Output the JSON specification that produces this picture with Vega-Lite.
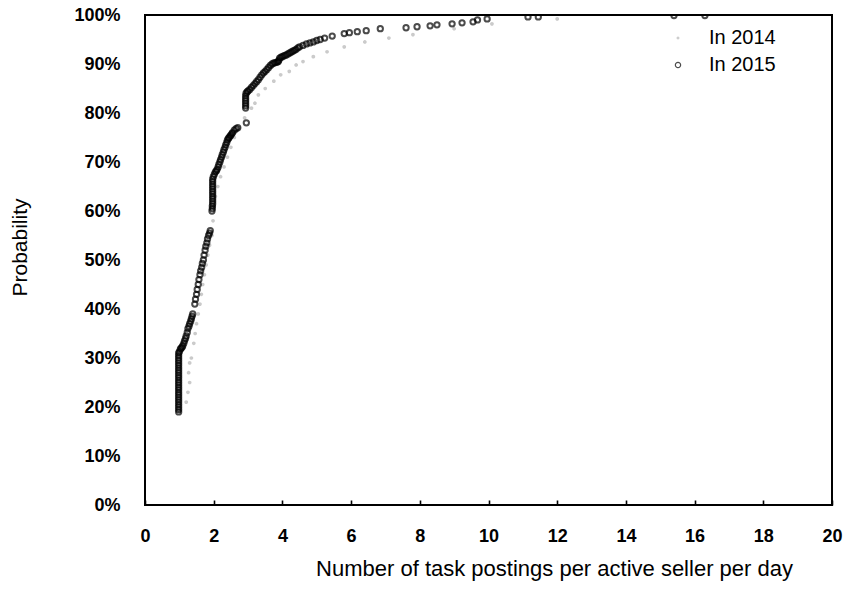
{
  "$schema": "https://vega.github.io/schema/vega-lite/v6.json",
  "autosize": {"type": "none"},
  "width": 687,
  "height": 490,
  "padding": {"left": 145, "top": 15, "right": 16, "bottom": 95},
  "background": "white",
  "config": {
    "font": "Liberation Sans",
    "view": {"stroke": "black", "strokeWidth": 2}
  },
  "data": {
    "values": [
      {"year": 2014, "x": 1.0, "p": 0.19}, {"year": 2014, "x": 1.2, "p": 0.21}, {"year": 2014, "x": 1.25, "p": 0.23},
      {"year": 2014, "x": 1.3, "p": 0.25}, {"year": 2014, "x": 1.27, "p": 0.27}, {"year": 2014, "x": 1.3, "p": 0.29},
      {"year": 2014, "x": 1.35, "p": 0.3}, {"year": 2014, "x": 1.42, "p": 0.33}, {"year": 2014, "x": 1.46, "p": 0.35},
      {"year": 2014, "x": 1.5, "p": 0.37}, {"year": 2014, "x": 1.55, "p": 0.39}, {"year": 2014, "x": 1.6, "p": 0.41},
      {"year": 2014, "x": 1.64, "p": 0.43}, {"year": 2014, "x": 1.68, "p": 0.45}, {"year": 2014, "x": 1.73, "p": 0.47},
      {"year": 2014, "x": 1.78, "p": 0.49}, {"year": 2014, "x": 1.83, "p": 0.51}, {"year": 2014, "x": 1.88, "p": 0.53},
      {"year": 2014, "x": 1.95, "p": 0.55}, {"year": 2014, "x": 1.98, "p": 0.58}, {"year": 2014, "x": 2.02, "p": 0.61},
      {"year": 2014, "x": 2.05, "p": 0.63}, {"year": 2014, "x": 2.12, "p": 0.65}, {"year": 2014, "x": 2.2, "p": 0.67},
      {"year": 2014, "x": 2.3, "p": 0.69}, {"year": 2014, "x": 2.4, "p": 0.71}, {"year": 2014, "x": 2.5, "p": 0.73},
      {"year": 2014, "x": 2.6, "p": 0.75}, {"year": 2014, "x": 2.75, "p": 0.77}, {"year": 2014, "x": 2.9, "p": 0.79},
      {"year": 2014, "x": 3.1, "p": 0.81}, {"year": 2014, "x": 3.2, "p": 0.82}, {"year": 2014, "x": 3.3, "p": 0.837},
      {"year": 2014, "x": 3.5, "p": 0.85}, {"year": 2014, "x": 3.75, "p": 0.865}, {"year": 2014, "x": 3.95, "p": 0.878},
      {"year": 2014, "x": 4.2, "p": 0.885}, {"year": 2014, "x": 4.4, "p": 0.898}, {"year": 2014, "x": 4.6, "p": 0.905},
      {"year": 2014, "x": 4.9, "p": 0.915}, {"year": 2014, "x": 5.3, "p": 0.925}, {"year": 2014, "x": 5.8, "p": 0.935},
      {"year": 2014, "x": 6.4, "p": 0.945}, {"year": 2014, "x": 7.1, "p": 0.953}, {"year": 2014, "x": 7.8, "p": 0.96},
      {"year": 2014, "x": 9.0, "p": 0.972}, {"year": 2014, "x": 10.1, "p": 0.982}, {"year": 2014, "x": 12.0, "p": 0.992},

      {"year": 2015, "x": 0.98, "p": 0.19}, {"year": 2015, "x": 0.98, "p": 0.195}, {"year": 2015, "x": 0.98, "p": 0.2},
      {"year": 2015, "x": 0.98, "p": 0.205}, {"year": 2015, "x": 0.98, "p": 0.21}, {"year": 2015, "x": 0.98, "p": 0.215},
      {"year": 2015, "x": 0.98, "p": 0.22}, {"year": 2015, "x": 0.98, "p": 0.225}, {"year": 2015, "x": 0.98, "p": 0.23},
      {"year": 2015, "x": 0.98, "p": 0.235}, {"year": 2015, "x": 0.98, "p": 0.24}, {"year": 2015, "x": 0.98, "p": 0.245},
      {"year": 2015, "x": 0.98, "p": 0.25}, {"year": 2015, "x": 0.98, "p": 0.255}, {"year": 2015, "x": 0.98, "p": 0.26},
      {"year": 2015, "x": 0.98, "p": 0.265}, {"year": 2015, "x": 0.98, "p": 0.27}, {"year": 2015, "x": 0.98, "p": 0.275},
      {"year": 2015, "x": 0.98, "p": 0.28}, {"year": 2015, "x": 0.98, "p": 0.285}, {"year": 2015, "x": 0.98, "p": 0.29},
      {"year": 2015, "x": 0.98, "p": 0.295}, {"year": 2015, "x": 0.98, "p": 0.3}, {"year": 2015, "x": 0.98, "p": 0.305},
      {"year": 2015, "x": 0.98, "p": 0.31}, {"year": 2015, "x": 1.0, "p": 0.313}, {"year": 2015, "x": 1.03, "p": 0.318},
      {"year": 2015, "x": 1.05, "p": 0.32}, {"year": 2015, "x": 1.08, "p": 0.322}, {"year": 2015, "x": 1.1, "p": 0.325},
      {"year": 2015, "x": 1.13, "p": 0.33}, {"year": 2015, "x": 1.15, "p": 0.335}, {"year": 2015, "x": 1.18, "p": 0.34},
      {"year": 2015, "x": 1.2, "p": 0.345}, {"year": 2015, "x": 1.23, "p": 0.352}, {"year": 2015, "x": 1.25, "p": 0.36},
      {"year": 2015, "x": 1.28, "p": 0.365}, {"year": 2015, "x": 1.3, "p": 0.37}, {"year": 2015, "x": 1.33, "p": 0.375},
      {"year": 2015, "x": 1.35, "p": 0.38}, {"year": 2015, "x": 1.37, "p": 0.385}, {"year": 2015, "x": 1.39, "p": 0.39},
      {"year": 2015, "x": 1.45, "p": 0.41}, {"year": 2015, "x": 1.47, "p": 0.42}, {"year": 2015, "x": 1.5, "p": 0.43},
      {"year": 2015, "x": 1.52, "p": 0.44}, {"year": 2015, "x": 1.55, "p": 0.45}, {"year": 2015, "x": 1.57, "p": 0.46},
      {"year": 2015, "x": 1.6, "p": 0.47}, {"year": 2015, "x": 1.62, "p": 0.478}, {"year": 2015, "x": 1.65, "p": 0.485},
      {"year": 2015, "x": 1.67, "p": 0.493}, {"year": 2015, "x": 1.7, "p": 0.5}, {"year": 2015, "x": 1.72, "p": 0.51},
      {"year": 2015, "x": 1.75, "p": 0.52}, {"year": 2015, "x": 1.77, "p": 0.528}, {"year": 2015, "x": 1.8, "p": 0.535},
      {"year": 2015, "x": 1.82, "p": 0.543}, {"year": 2015, "x": 1.85, "p": 0.55}, {"year": 2015, "x": 1.88, "p": 0.555},
      {"year": 2015, "x": 1.9, "p": 0.56}, {"year": 2015, "x": 1.95, "p": 0.6}, {"year": 2015, "x": 1.96, "p": 0.605},
      {"year": 2015, "x": 1.96, "p": 0.61}, {"year": 2015, "x": 1.97, "p": 0.615}, {"year": 2015, "x": 1.97, "p": 0.62},
      {"year": 2015, "x": 1.97, "p": 0.625}, {"year": 2015, "x": 1.97, "p": 0.63}, {"year": 2015, "x": 1.97, "p": 0.635},
      {"year": 2015, "x": 1.97, "p": 0.64}, {"year": 2015, "x": 1.97, "p": 0.645}, {"year": 2015, "x": 1.97, "p": 0.65},
      {"year": 2015, "x": 1.97, "p": 0.655}, {"year": 2015, "x": 1.97, "p": 0.66}, {"year": 2015, "x": 1.97, "p": 0.665},
      {"year": 2015, "x": 1.99, "p": 0.67}, {"year": 2015, "x": 2.02, "p": 0.675}, {"year": 2015, "x": 2.05, "p": 0.68},
      {"year": 2015, "x": 2.08, "p": 0.682}, {"year": 2015, "x": 2.1, "p": 0.685}, {"year": 2015, "x": 2.13, "p": 0.69},
      {"year": 2015, "x": 2.15, "p": 0.695}, {"year": 2015, "x": 2.18, "p": 0.7}, {"year": 2015, "x": 2.2, "p": 0.705},
      {"year": 2015, "x": 2.23, "p": 0.71}, {"year": 2015, "x": 2.25, "p": 0.715}, {"year": 2015, "x": 2.28, "p": 0.72},
      {"year": 2015, "x": 2.3, "p": 0.725}, {"year": 2015, "x": 2.33, "p": 0.73}, {"year": 2015, "x": 2.35, "p": 0.735},
      {"year": 2015, "x": 2.38, "p": 0.74}, {"year": 2015, "x": 2.4, "p": 0.745}, {"year": 2015, "x": 2.43, "p": 0.748},
      {"year": 2015, "x": 2.45, "p": 0.75}, {"year": 2015, "x": 2.48, "p": 0.753}, {"year": 2015, "x": 2.5, "p": 0.755},
      {"year": 2015, "x": 2.53, "p": 0.758}, {"year": 2015, "x": 2.55, "p": 0.76}, {"year": 2015, "x": 2.6, "p": 0.765},
      {"year": 2015, "x": 2.65, "p": 0.768}, {"year": 2015, "x": 2.7, "p": 0.77}, {"year": 2015, "x": 2.95, "p": 0.78},
      {"year": 2015, "x": 2.93, "p": 0.81}, {"year": 2015, "x": 2.93, "p": 0.815}, {"year": 2015, "x": 2.93, "p": 0.82},
      {"year": 2015, "x": 2.93, "p": 0.825}, {"year": 2015, "x": 2.93, "p": 0.83}, {"year": 2015, "x": 2.93, "p": 0.835},
      {"year": 2015, "x": 2.94, "p": 0.84}, {"year": 2015, "x": 2.97, "p": 0.843}, {"year": 2015, "x": 3.0, "p": 0.845},
      {"year": 2015, "x": 3.05, "p": 0.848}, {"year": 2015, "x": 3.1, "p": 0.852}, {"year": 2015, "x": 3.15, "p": 0.856},
      {"year": 2015, "x": 3.2, "p": 0.86}, {"year": 2015, "x": 3.25, "p": 0.864}, {"year": 2015, "x": 3.3, "p": 0.868},
      {"year": 2015, "x": 3.35, "p": 0.873}, {"year": 2015, "x": 3.4, "p": 0.878}, {"year": 2015, "x": 3.45, "p": 0.882},
      {"year": 2015, "x": 3.5, "p": 0.885}, {"year": 2015, "x": 3.55, "p": 0.889}, {"year": 2015, "x": 3.6, "p": 0.893},
      {"year": 2015, "x": 3.65, "p": 0.897}, {"year": 2015, "x": 3.7, "p": 0.9}, {"year": 2015, "x": 3.75, "p": 0.902},
      {"year": 2015, "x": 3.8, "p": 0.903}, {"year": 2015, "x": 3.85, "p": 0.904}, {"year": 2015, "x": 3.88, "p": 0.905},
      {"year": 2015, "x": 3.9, "p": 0.908}, {"year": 2015, "x": 3.92, "p": 0.912}, {"year": 2015, "x": 3.96, "p": 0.914},
      {"year": 2015, "x": 4.0, "p": 0.915}, {"year": 2015, "x": 4.05, "p": 0.917}, {"year": 2015, "x": 4.1, "p": 0.918},
      {"year": 2015, "x": 4.15, "p": 0.92}, {"year": 2015, "x": 4.2, "p": 0.922}, {"year": 2015, "x": 4.25, "p": 0.924},
      {"year": 2015, "x": 4.3, "p": 0.926}, {"year": 2015, "x": 4.35, "p": 0.928}, {"year": 2015, "x": 4.4, "p": 0.93},
      {"year": 2015, "x": 4.45, "p": 0.933}, {"year": 2015, "x": 4.5, "p": 0.935}, {"year": 2015, "x": 4.6, "p": 0.938},
      {"year": 2015, "x": 4.7, "p": 0.941}, {"year": 2015, "x": 4.8, "p": 0.943}, {"year": 2015, "x": 4.9, "p": 0.945},
      {"year": 2015, "x": 5.0, "p": 0.948}, {"year": 2015, "x": 5.1, "p": 0.95}, {"year": 2015, "x": 5.23, "p": 0.953},
      {"year": 2015, "x": 5.45, "p": 0.957}, {"year": 2015, "x": 5.8, "p": 0.962}, {"year": 2015, "x": 5.95, "p": 0.964},
      {"year": 2015, "x": 6.18, "p": 0.966}, {"year": 2015, "x": 6.44, "p": 0.968}, {"year": 2015, "x": 6.85, "p": 0.972},
      {"year": 2015, "x": 7.6, "p": 0.974}, {"year": 2015, "x": 7.92, "p": 0.976}, {"year": 2015, "x": 8.3, "p": 0.978},
      {"year": 2015, "x": 8.5, "p": 0.98}, {"year": 2015, "x": 8.94, "p": 0.982}, {"year": 2015, "x": 9.23, "p": 0.984},
      {"year": 2015, "x": 9.55, "p": 0.986}, {"year": 2015, "x": 9.68, "p": 0.99}, {"year": 2015, "x": 9.96, "p": 0.992},
      {"year": 2015, "x": 11.15, "p": 0.996}, {"year": 2015, "x": 11.45, "p": 0.996}, {"year": 2015, "x": 15.4, "p": 0.999},
      {"year": 2015, "x": 16.3, "p": 0.999}
    ]
  },
  "mark": {"type": "point", "filled": false, "strokeWidth": 2, "clip": true},
  "encoding": {
    "x": {
      "field": "x",
      "type": "quantitative",
      "scale": {"domain": [0, 20], "nice": false, "zero": false},
      "axis": {
        "values": [0, 2, 4, 6, 8, 10, 12, 14, 16, 18, 20],
        "grid": false,
        "domain": false,
        "ticks": true,
        "tickSize": 5,
        "tickWidth": 1.6,
        "tickColor": "black",
        "offset": -5,
        "labelPadding": 22,
        "labelFontSize": 18,
        "labelFontWeight": "bold",
        "labelColor": "black",
        "labelFlush": false,
        "title": "Number of task postings per active seller per day",
        "titleFontSize": 22,
        "titleFontWeight": "normal",
        "titleColor": "black",
        "titleBaseline": "middle",
        "titleX": 409,
        "titleY": 68
      }
    },
    "y": {
      "field": "p",
      "type": "quantitative",
      "scale": {"domain": [0, 1], "nice": false},
      "axis": {
        "values": [0, 0.1, 0.2, 0.3, 0.4, 0.5, 0.6, 0.7, 0.8, 0.9, 1],
        "format": ".0%",
        "grid": false,
        "domain": false,
        "ticks": false,
        "labelPadding": 25,
        "labelFontSize": 18,
        "labelFontWeight": "bold",
        "labelColor": "black",
        "labelFlush": false,
        "title": "Probability",
        "titleFontSize": 21,
        "titleFontWeight": "normal",
        "titleColor": "black",
        "titleBaseline": "middle",
        "titleX": -125,
        "titleY": 232
      }
    },
    "color": {
      "field": "year",
      "type": "nominal",
      "scale": {"domain": [2014, 2015], "range": ["#b4b4b4", "#000000"]},
      "legend": {
        "orient": "none",
        "legendX": 523,
        "legendY": 13,
        "title": null,
        "labelExpr": "'In ' + datum.label",
        "labelFontSize": 20,
        "labelColor": "black",
        "labelOffset": 21,
        "rowPadding": 7,
        "symbolStrokeWidth": 1.2,
        "padding": 0
      }
    },
    "size": {
      "field": "year",
      "type": "nominal",
      "scale": {"domain": [2014, 2015], "range": [3, 28]},
      "legend": null
    }
  }
}
